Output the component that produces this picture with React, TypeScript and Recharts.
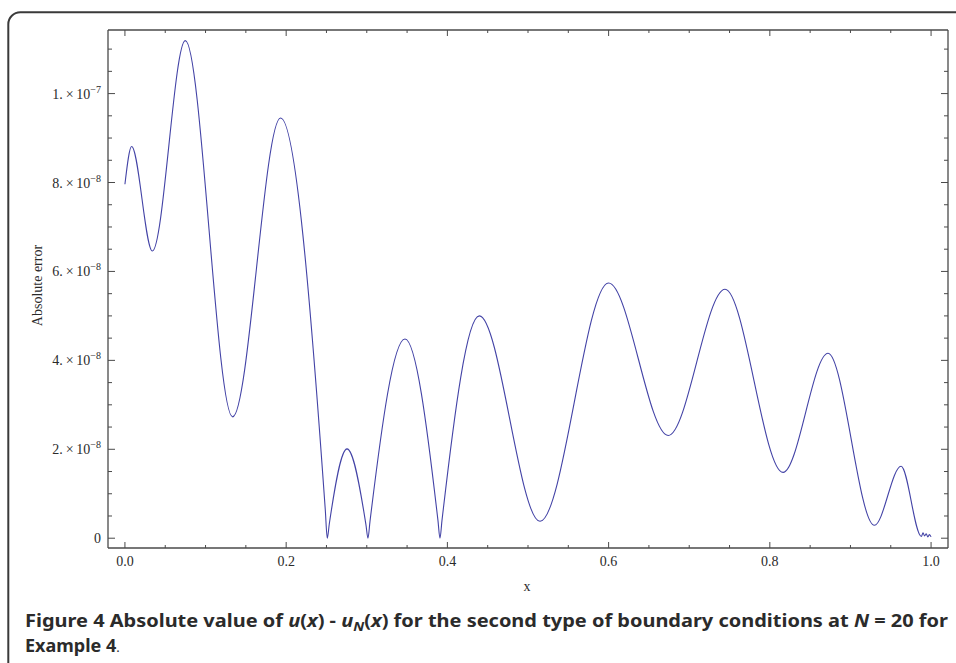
import React from "react";
import { LineChart, Line, XAxis, YAxis } from "recharts";

// x positions and |u(x) - uN(x)| (extrema, zeros and points next to the zeros)
const X_VALUES = [
  0, 0.0083, 0.034, 0.0749, 0.1336, 0.193, 0.2485, 0.251, 0.2535, 0.2755, 0.299,
  0.3015, 0.304, 0.3474, 0.3883, 0.3908, 0.3933, 0.4396, 0.5149, 0.6, 0.674, 0.7444,
  0.8164, 0.8722, 0.9297, 0.9628, 0.988, 0.99, 0.992, 0.994, 0.996, 0.998, 1.0,
];
const ERROR_VALUES = [
  7.96e-8, 8.81e-8, 6.46e-8, 11.19e-8, 2.73e-8, 9.45e-8, 0.65e-8, 0, 0.32e-8, 2.01e-8,
  0.3e-8, 0, 0.38e-8, 4.48e-8, 0.4e-8, 0, 0.4e-8, 5.0e-8, 0.38e-8, 5.74e-8, 2.31e-8,
  5.6e-8, 1.48e-8, 4.16e-8, 0.29e-8, 1.62e-8, 0.04e-8, 0.12e-8, 0.05e-8, 0.1e-8,
  0.03e-8, 0.08e-8, 0.03e-8,
];

const X_TICKS = [
  0, 0.05, 0.1, 0.15, 0.2, 0.25, 0.3, 0.35, 0.4, 0.45, 0.5, 0.55, 0.6, 0.65, 0.7,
  0.75, 0.8, 0.85, 0.9, 0.95, 1.0,
];
const X_MAJOR = [0, 0.2, 0.4, 0.6, 0.8, 1.0];
const X_LABELS = ["0.0", "0.2", "0.4", "0.6", "0.8", "1.0"];

const Y_TICKS = [
  0, 0.5e-8, 1e-8, 1.5e-8, 2e-8, 2.5e-8, 3e-8, 3.5e-8, 4e-8, 4.5e-8, 5e-8, 5.5e-8,
  6e-8, 6.5e-8, 7e-8, 7.5e-8, 8e-8, 8.5e-8, 9e-8, 9.5e-8, 1e-7, 1.05e-7, 1.1e-7,
];
const Y_MAJOR = [0, 2e-8, 4e-8, 6e-8, 8e-8, 1e-7];
const Y_MANTISSA = ["0", "2.", "4.", "6.", "8.", "1."];
const Y_EXPONENT = ["", "\u22128", "\u22128", "\u22128", "\u22128", "\u22127"];

const data = X_VALUES.map((x, i) => ({ x, err: ERROR_VALUES[i] }));

const FRAME = "#4a4a4a";
const LINE = "#4343a6";
const SERIF = "'Liberation Serif', 'Times New Roman', serif";
const TEXT = "#2a2a2a";
const X_DOMAIN = [-0.021, 1.021];
const Y_DOMAIN = [-0.22e-8, 11.43e-8];

const majorIndex = (list: number[], v: number) =>
  list.findIndex((m) => Math.abs(m - v) <= Math.abs(m) * 1e-6 + 1e-15);

const BottomTick = (props: any) => {
  const { x, y, payload } = props;
  const i = majorIndex(X_MAJOR, payload.value);
  return (
    <g>
      <line x1={x} x2={x} y1={y} y2={y - (i >= 0 ? 6 : 3)} stroke={FRAME} strokeWidth={1} />
      {i >= 0 && (
        <text x={x} y={y + 18} textAnchor="middle" fontFamily={SERIF} fontSize={14} fill={TEXT}>
          {X_LABELS[i]}
        </text>
      )}
    </g>
  );
};

const TopTick = (props: any) => {
  const { x, y, payload } = props;
  const i = majorIndex(X_MAJOR, payload.value);
  return <line x1={x} x2={x} y1={y} y2={y + (i >= 0 ? 6 : 3)} stroke={FRAME} strokeWidth={1} />;
};

const LeftTick = (props: any) => {
  const { x, y, payload } = props;
  const i = majorIndex(Y_MAJOR, payload.value);
  return (
    <g>
      <line x1={x} x2={x + (i >= 0 ? 7 : 4)} y1={y} y2={y} stroke={FRAME} strokeWidth={1} />
      {i >= 0 && (
        <text x={x - 7} y={y + 5} textAnchor="end" fontFamily={SERIF} fontSize={14} fill={TEXT}>
          {Y_EXPONENT[i] ? (
            <>
              <tspan>{Y_MANTISSA[i]}{"\u2009\u00d7\u200910"}</tspan>
              <tspan dy={-6} fontSize={10}>{Y_EXPONENT[i]}</tspan>
            </>
          ) : (
            Y_MANTISSA[i]
          )}
        </text>
      )}
    </g>
  );
};

const RightTick = (props: any) => {
  const { x, y, payload } = props;
  const i = majorIndex(Y_MAJOR, payload.value);
  return <line x1={x} x2={x - (i >= 0 ? 7 : 4)} y1={y} y2={y} stroke={FRAME} strokeWidth={1} />;
};

const CAPTION = "'Liberation Sans Narrow', 'Noto Sans', 'Liberation Sans', sans-serif";

export default function App() {
  return (
    <div
      style={{
        position: "fixed",
        left: 0,
        top: 0,
        width: 956,
        height: 663,
        overflow: "hidden",
        background: "#fff",
      }}
    >
      <svg
        width={956}
        height={663}
        style={{ position: "absolute", left: 0, top: 0, pointerEvents: "none" }}
      >
        <path
          d="M 8.3 663 L 8.3 24.2 A 12 12 0 0 1 20.3 12.2 L 956 12.2"
          fill="none"
          stroke="#3a3a3a"
          strokeWidth={2}
        />
        <text
          x={41.5}
          y={285.5}
          transform="rotate(-90, 41.5, 285.5)"
          textAnchor="middle"
          fontFamily={SERIF}
          fontSize={14}
          fill={TEXT}
        >
          Absolute error
        </text>
        <text x={527} y={591} textAnchor="middle" fontFamily={SERIF} fontSize={14} fill={TEXT}>
          x
        </text>
        <text
          x={25}
          y={627}
          fontFamily={CAPTION}
          fontSize={18}
          fontWeight="bold"
          fill="#2b2b2b"
          textLength={923}
          lengthAdjust="spacingAndGlyphs"
        >
          <tspan>Figure 4 Absolute value of </tspan>
          <tspan fontStyle="italic">u</tspan>
          <tspan>(</tspan>
          <tspan fontStyle="italic">x</tspan>
          <tspan>) - </tspan>
          <tspan fontStyle="italic">u</tspan>
          <tspan fontStyle="italic" fontSize={13} dy={4}>N</tspan>
          <tspan dy={-4}>(</tspan>
          <tspan fontStyle="italic">x</tspan>
          <tspan>) for the second type of boundary conditions at </tspan>
          <tspan fontStyle="italic">N</tspan>
          <tspan> = 20 for</tspan>
        </text>
        <text x={25} y={652} fontFamily={CAPTION} fontSize={18} fill="#2b2b2b">
          <tspan fontWeight="bold">Example 4</tspan>
          <tspan fontSize={13}>.</tspan>
        </text>
      </svg>
      <div style={{ position: "absolute", left: 0, top: 0 }}>
        <LineChart
          width={950}
          height={600}
          data={data}
          margin={{ top: 29, right: 1, bottom: 12, left: 0 }}
        >
          <XAxis
            dataKey="x"
            type="number"
            domain={X_DOMAIN}
            allowDataOverflow
            ticks={X_TICKS}
            interval={0}
            tickSize={0}
            tickMargin={0}
            tick={BottomTick}
            axisLine={{ stroke: FRAME, strokeWidth: 1.3 }}
            height={40}
          />
          <XAxis
            xAxisId="top"
            orientation="top"
            dataKey="x"
            type="number"
            domain={X_DOMAIN}
            allowDataOverflow
            ticks={X_TICKS}
            interval={0}
            tickSize={0}
            tickMargin={0}
            tick={TopTick}
            axisLine={{ stroke: FRAME, strokeWidth: 1.3 }}
            height={1}
          />
          <YAxis
            type="number"
            domain={Y_DOMAIN}
            allowDataOverflow
            ticks={Y_TICKS}
            interval={0}
            tickSize={0}
            tickMargin={0}
            tick={LeftTick}
            axisLine={{ stroke: FRAME, strokeWidth: 1.3 }}
            width={108}
          />
          <YAxis
            yAxisId="right"
            orientation="right"
            type="number"
            domain={Y_DOMAIN}
            allowDataOverflow
            ticks={Y_TICKS}
            interval={0}
            tickSize={0}
            tickMargin={0}
            tick={RightTick}
            axisLine={{ stroke: FRAME, strokeWidth: 1.3 }}
            width={1}
          />
          {/* invisible copy so the top and right frame axes get drawn */}
          <Line
            xAxisId="top"
            yAxisId="right"
            type="monotone"
            dataKey="err"
            stroke="transparent"
            dot={false}
            activeDot={false}
            isAnimationActive={false}
          />
          <Line
            type="monotone"
            dataKey="err"
            stroke={LINE}
            strokeWidth={1.1}
            dot={false}
            isAnimationActive={false}
          />
        </LineChart>
      </div>
    </div>
  );
}
